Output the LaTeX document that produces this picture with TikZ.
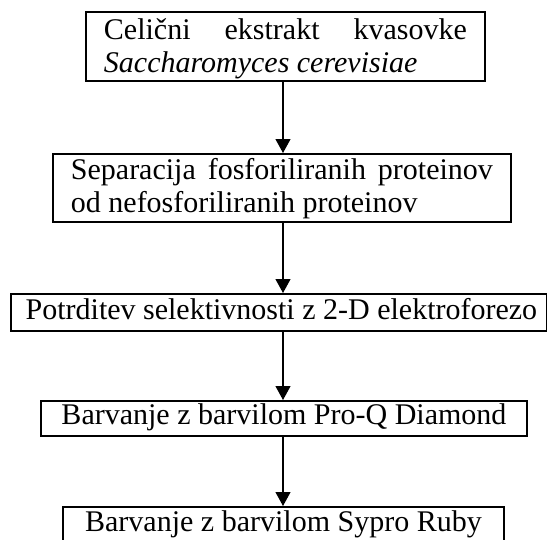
\documentclass[tikz,border=0pt]{standalone}
\usepackage{fontspec}
\setmainfont{Liberation Serif}
\usetikzlibrary{arrows.meta}
\begin{document}
\begin{tikzpicture}[x=0.4pt,y=-0.4pt,
  box/.style={draw,line width=0.75pt,rectangle,anchor=north west,inner xsep=7.2pt,inner ysep=0pt,
    font=\fontsize{12}{13.2}\selectfont},
  two/.style={box,align=justify},
  one/.style={box,inner xsep=0pt,align=center},
  arr/.style={line width=0.45pt,-{Triangle[length=5.6pt,width=6pt]}}]
\useasboundingbox (0,0) rectangle (547,540);
\coordinate (ax) at (283,0);
\node[two,text width=145.2pt,text height=11.2pt,text depth=16.4pt] (b1) at (85,11)
  {Celični ekstrakt kvasovke\linebreak\textit{Saccharomyces cerevisiae}};
\node[two,text width=168.8pt,text height=10.4pt,text depth=16.8pt] (b2) at (52,153)
  {Separacija fosforiliranih proteinov\linebreak od nefosforiliranih proteinov};
\node[one,minimum width=214.4pt,text height=10.4pt,text depth=4.4pt] (b3) at (10,293)
  {\hspace*{2pt}Potrditev selektivnosti z 2-D elektroforezo};
\node[one,minimum width=194.4pt,text height=9.6pt,text depth=4.4pt] (b4) at (40,400)
  {Barvanje z barvilom Pro-Q Diamond};
\node[one,minimum width=176.4pt,text height=10pt,text depth=7.6pt] (b5) at (62,506)
  {Barvanje z barvilom Sypro Ruby};
\draw[arr] (b1.south -| ax) -- (b2.north -| ax);
\draw[arr] (b2.south -| ax) -- (b3.north -| ax);
\draw[arr] (b3.south -| ax) -- (b4.north -| ax);
\draw[arr] (b4.south -| ax) -- (b5.north -| ax);
\end{tikzpicture}
\end{document}
